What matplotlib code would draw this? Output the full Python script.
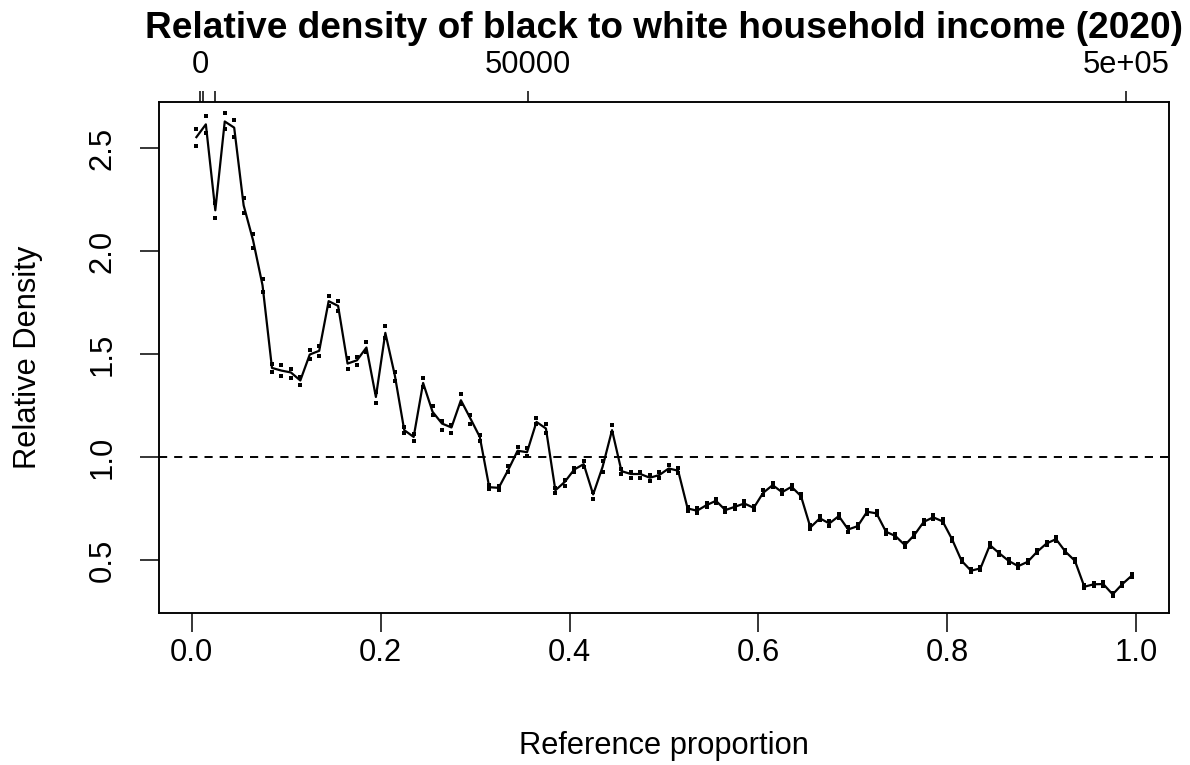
import matplotlib
matplotlib.use("Agg")
import matplotlib.pyplot as plt
import numpy as np

plt.rcParams['font.family'] = ['Liberation Sans', 'DejaVu Sans']

# Reference proportions (grid of 100 points)
proportion = [0.005 + 0.01 * i for i in range(100)]

relative_density = [
    2.554, 2.616, 2.199, 2.630, 2.600, 2.223, 2.053, 1.835, 1.434, 1.421,
    1.412, 1.373, 1.499, 1.517, 1.758, 1.735, 1.455, 1.471, 1.533, 1.293,
    1.604, 1.399, 1.132, 1.099, 1.361, 1.221, 1.164, 1.145, 1.277, 1.189,
    1.099, 0.855, 0.852, 0.938, 1.032, 1.025, 1.172, 1.140, 0.840, 0.881,
    0.941, 0.967, 0.820, 0.954, 1.132, 0.933, 0.919, 0.919, 0.901, 0.914,
    0.946, 0.935, 0.752, 0.741, 0.768, 0.789, 0.744, 0.760, 0.776, 0.755,
    0.828, 0.865, 0.831, 0.857, 0.812, 0.660, 0.704, 0.679, 0.715, 0.650,
    0.666, 0.736, 0.728, 0.639, 0.618, 0.574, 0.623, 0.687, 0.709, 0.689,
    0.602, 0.498, 0.450, 0.461, 0.574, 0.534, 0.497, 0.472, 0.493, 0.542,
    0.582, 0.603, 0.542, 0.498, 0.372, 0.384, 0.385, 0.335, 0.384, 0.425,
]

ci_upper = [
    2.595, 2.658, 2.235, 2.673, 2.639, 2.260, 2.086, 1.864, 1.455, 1.446,
    1.431, 1.390, 1.523, 1.539, 1.785, 1.761, 1.480, 1.487, 1.560, 1.318,
    1.635, 1.415, 1.148, 1.115, 1.387, 1.248, 1.174, 1.155, 1.305, 1.205,
    1.110, 0.866, 0.863, 0.957, 1.051, 1.045, 1.193, 1.160, 0.852, 0.890,
    0.949, 0.983, 0.832, 0.980, 1.156, 0.943, 0.930, 0.930, 0.915, 0.930,
    0.963, 0.948, 0.760, 0.752, 0.780, 0.800, 0.755, 0.770, 0.787, 0.765,
    0.840, 0.877, 0.842, 0.868, 0.823, 0.670, 0.714, 0.689, 0.725, 0.660,
    0.676, 0.746, 0.738, 0.649, 0.628, 0.584, 0.633, 0.697, 0.719, 0.699,
    0.610, 0.506, 0.458, 0.469, 0.582, 0.542, 0.505, 0.480, 0.501, 0.550,
    0.590, 0.611, 0.550, 0.506, 0.380, 0.392, 0.393, 0.343, 0.392, 0.433,
]

ci_lower = [
    2.511, 2.576, 2.163, 2.592, 2.554, 2.188, 2.018, 1.803, 1.412, 1.397,
    1.386, 1.350, 1.475, 1.491, 1.735, 1.709, 1.431, 1.447, 1.510, 1.266,
    1.580, 1.371, 1.116, 1.081, 1.340, 1.205, 1.135, 1.116, 1.258, 1.164,
    1.080, 0.844, 0.841, 0.930, 1.022, 1.005, 1.161, 1.120, 0.828, 0.862,
    0.928, 0.955, 0.797, 0.930, 1.120, 0.920, 0.900, 0.900, 0.885, 0.900,
    0.935, 0.925, 0.741, 0.728, 0.757, 0.780, 0.733, 0.748, 0.763, 0.745,
    0.818, 0.855, 0.820, 0.846, 0.801, 0.650, 0.694, 0.669, 0.705, 0.640,
    0.656, 0.726, 0.718, 0.629, 0.608, 0.564, 0.613, 0.677, 0.699, 0.679,
    0.594, 0.490, 0.442, 0.453, 0.566, 0.526, 0.489, 0.464, 0.485, 0.534,
    0.574, 0.595, 0.534, 0.490, 0.364, 0.376, 0.377, 0.327, 0.376, 0.417,
]

x_ticks = [0.0, 0.2, 0.4, 0.6, 0.8, 1.0]
x_tick_labels = ["0.0", "0.2", "0.4", "0.6", "0.8", "1.0"]
y_ticks = [0.5, 1.0, 1.5, 2.0, 2.5]
y_tick_labels = ["0.5", "1.0", "1.5", "2.0", "2.5"]
top_tick_pos = [0.0092, 0.012, 0.0251, 0.3557, 0.989]
top_tick_labels = ["0", "", "", "50000", "5e+05"]

title = "Relative density of black to white household income (2020)"
xlabel = "Reference proportion"
ylabel = "Relative Density"

FS = 22.2
W, H = 1190, 765
fig = plt.figure(figsize=(W / 100, H / 100), dpi=100)
L, R, T, B = 159, 1169, 102, 612.7
ax = fig.add_axes([L / W, 1 - B / H, (R - L) / W, (B - T) / H])

ax.plot(proportion, relative_density, color='black', lw=1.6, zorder=3)
ax.plot(proportion, ci_upper, ls='none', marker='s', ms=2.6, color='black', mew=0)
ax.plot(proportion, ci_lower, ls='none', marker='s', ms=2.6, color='black', mew=0)
ax.axhline(1.0, color='black', lw=1.4, ls=(0, (4.2, 3.6)))

ax.set_xlim(-0.0346, 1.0346)
ax.set_ylim(0.246, 2.7245)

ax.set_xticks(x_ticks)
ax.set_xticklabels(x_tick_labels)
ax.set_yticks(y_ticks)
ax.set_yticklabels(y_tick_labels, rotation=90, va='center')
ax.tick_params(axis='both', direction='out', length=13.9, width=1.1,
               labelsize=FS, color='black')
ax.tick_params(axis='x', pad=4)
ax.tick_params(axis='y', pad=16)
for sp in ax.spines.values():
    sp.set_linewidth(1.1)

ax2 = ax.twiny()
ax2.set_xlim(ax.get_xlim())
ax2.set_xticks(top_tick_pos)
ax2.set_xticklabels(top_tick_labels)
ax2.tick_params(axis='x', direction='out', length=7.7, width=1.1,
                labelsize=FS, pad=8.5)
for sp in ax2.spines.values():
    sp.set_linewidth(1.1)

fig.text((L + R) / 2 / W, 1 - 28 / H, title, ha='center', va='center',
         fontsize=FS * 1.2, fontweight='bold')
fig.text((L + R) / 2 / W, 1 - 746 / H, xlabel, ha='center', va='center', fontsize=FS)
fig.text(28 / W, 1 - ((T + B) / 2) / H, ylabel, ha='center', va='center',
         rotation=90, fontsize=FS)

fig.savefig("out.png", dpi=100)
